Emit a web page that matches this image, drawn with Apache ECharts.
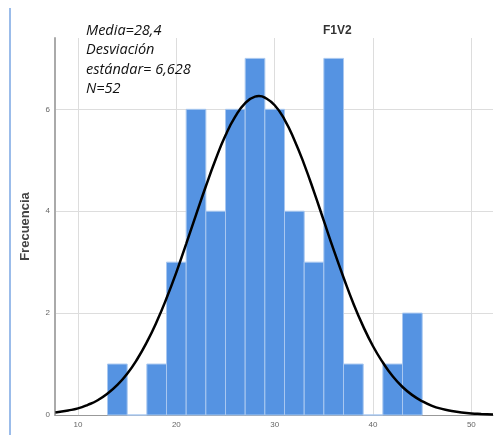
<!DOCTYPE html>
<html>
<head>
<meta charset="utf-8">
<script src="https://cdn.jsdelivr.net/npm/echarts@6/dist/echarts.min.js"></script>
<style>
  html, body { margin: 0; padding: 0; background: #fff; }
  #chart { width: 496px; height: 437px; }
</style>
</head>
<body>
<div id="chart"></div>
<script>
// histograma F1V2 (intervalos de 2)
var binStart = [13, 15, 17, 19, 21, 23, 25, 27, 29, 31, 33, 35, 37, 39, 41, 43];
var binCount = [1, 0, 1, 3, 6, 4, 6, 7, 6, 4, 3, 7, 1, 0, 1, 2];
var binWidth = 2;

// curva normal
var curveX = [7.7, 9, 10, 11, 12, 13, 14, 15, 16, 17, 18, 19, 20, 21, 22, 23, 24, 25, 26, 27, 28, 28.4, 29, 30,
    31, 32, 33, 34, 35, 36, 37, 38, 39, 40, 41, 42, 43, 44, 45, 46, 47, 48, 49, 50, 51, 52.2];
var curveY = [0.05, 0.09, 0.13, 0.2, 0.29, 0.42, 0.59, 0.81, 1.09, 1.43, 1.83, 2.29, 2.8, 3.36, 3.93, 4.49, 5.02, 5.49, 5.86, 6.12, 6.25, 6.26, 6.23, 6.08,
    5.8, 5.4, 4.92, 4.38, 3.81, 3.24, 2.7, 2.19, 1.74, 1.35, 1.03, 0.76, 0.55, 0.39, 0.27, 0.18, 0.12, 0.08, 0.05, 0.03, 0.02, 0.01];

var xTicks = [10, 20, 30, 40, 50];
var yTicks = [0, 2, 4, 6];

var statsText = ['Media=28,4', 'Desviación', 'estándar= 6,628', 'N=52'];

function DrawHist() {
    var chart = echarts.init(document.getElementById('chart'));

    var barData = binStart.map(function (s, i) {
        return [s, s + binWidth, binCount[i]];
    });
    var lineData = curveX.map(function (x, i) {
        return [x, curveY[i]];
    });

    var option = {
        animation: false,
        title: {
            text: 'F1V2',
            left: 318,
            top: 20,
            textStyle: { fontSize: 12, fontWeight: 'bold', color: '#333', fontFamily: 'Liberation Sans' }
        },
        grid: { left: 55, right: 3, top: 38, bottom: 22 },
        xAxis: {
            type: 'value',
            min: 7.66,
            max: 52.2,
            axisLine: { show: true, lineStyle: { color: '#999', width: 1 } },
            axisTick: { show: false, customValues: xTicks },
            axisLabel: { customValues: xTicks, fontSize: 8, color: '#666', margin: 6 },
            splitLine: { show: true, lineStyle: { color: '#ddd', width: 1 } }
        },
        yAxis: {
            type: 'value',
            min: 0,
            max: 7.4,
            name: 'Frecuencia',
            nameLocation: 'middle',
            nameGap: 23,
            nameTextStyle: { fontSize: 13, fontWeight: 'bold', color: '#444', fontFamily: 'Liberation Sans' },
            axisLine: { show: true, lineStyle: { color: '#aaa', width: 2 } },
            axisTick: { show: false, customValues: yTicks },
            axisLabel: { customValues: yTicks, fontSize: 8, color: '#666', margin: 5 },
            splitLine: { show: true, lineStyle: { color: '#ddd', width: 1 } }
        },
        series: [
            {
                type: 'custom',
                data: barData,
                renderItem: function (params, api) {
                    var p0 = api.coord([api.value(0), api.value(2)]);
                    var p1 = api.coord([api.value(1), 0]);
                    return {
                        type: 'rect',
                        shape: { x: p0[0], y: p0[1], width: p1[0] - p0[0], height: p1[1] - p0[1] },
                        style: { fill: '#5593e2', stroke: '#a9c8f0', lineWidth: 1 }
                    };
                },
                z: 2
            },
            {
                type: 'line',
                data: lineData,
                smooth: true,
                showSymbol: false,
                lineStyle: { color: '#000', width: 2.5 },
                z: 3
            }
        ],
        graphic: [
            {
                type: 'line',
                shape: { x1: 10, y1: 8, x2: 10, y2: 435 },
                style: { stroke: '#7aa6e3', lineWidth: 1.5 }
            },
            {
                type: 'text',
                left: 86,
                top: 21,
                style: {
                    text: statsText.join('\n'),
                    font: 'italic 14.5px "Open Sans"',
                    lineHeight: 19.5,
                    fill: '#111'
                },
                z: 10
            }
        ]
    };
    chart.setOption(option);
};

DrawHist();
</script>
</body>
</html>
